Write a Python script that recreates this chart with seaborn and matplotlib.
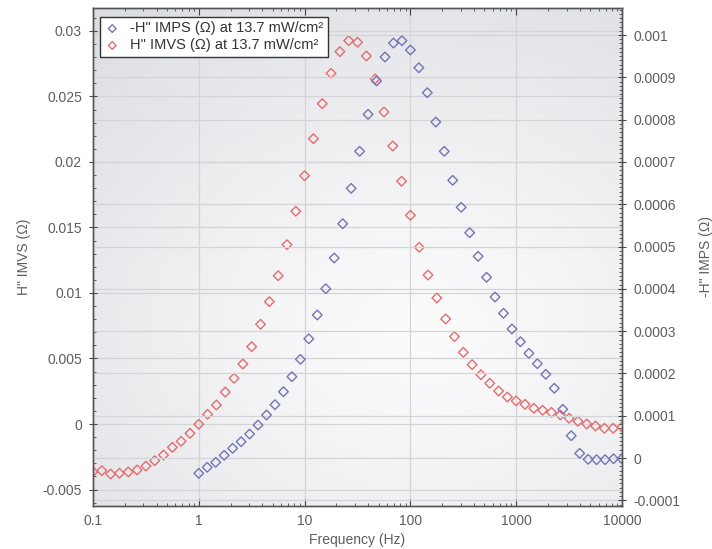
import numpy as np
import pandas as pd
import matplotlib
matplotlib.use("Agg")
import matplotlib.pyplot as plt
import seaborn as sns
from matplotlib.colors import LinearSegmentedColormap
from matplotlib.ticker import MultipleLocator, FuncFormatter, LogLocator, NullFormatter

# ---------------------------------------------------------------------------
# DATA
# ---------------------------------------------------------------------------
# IMVS: 12 points per decade, 0.1 Hz .. 10 kHz
FREQ_IMVS = [
    0.1, 0.1212, 0.1468, 0.1778, 0.2154, 0.2610, 0.3162, 0.3831, 0.4642, 0.5623, 0.6813, 0.8254,
    1, 1.212, 1.468, 1.778, 2.154, 2.610, 3.162, 3.831, 4.642, 5.623, 6.813, 8.254,
    10, 12.12, 14.68, 17.78, 21.54, 26.10, 31.62, 38.31, 46.42, 56.23, 68.13, 82.54,
    100, 121.2, 146.8, 177.8, 215.4, 261.0, 316.2, 383.1, 464.2, 562.3, 681.3, 825.4,
    1000, 1212, 1468, 1778, 2154, 2610, 3162, 3831, 4642, 5623, 6813, 8254,
    10000,
]
H_IMVS = [
    -0.00364, -0.00356, -0.00382, -0.00376, -0.00366, -0.00351, -0.00321, -0.00280, -0.00237, -0.00178, -0.00132, -0.00071,
    -0.00002, 0.00074, 0.00145, 0.00244, 0.00349, 0.00458, 0.00590, 0.00761, 0.00934, 0.01132, 0.01369, 0.01624,
    0.01895, 0.02178, 0.02445, 0.02677, 0.02842, 0.02926, 0.02914, 0.02809, 0.02634, 0.02382, 0.02122, 0.01853,
    0.01593, 0.01349, 0.01137, 0.00962, 0.00802, 0.00667, 0.00547, 0.00453, 0.00376, 0.00311, 0.00252, 0.00206,
    0.00176, 0.00150, 0.00120, 0.00105, 0.00089, 0.00069, 0.00044, 0.00021, 0.00000, -0.00015, -0.00033, -0.00033,
    -0.00023,
]

# IMPS: 1 Hz .. 10 kHz
FREQ_IMPS = [
    1, 1.202, 1.445, 1.738, 2.089, 2.512, 3.020, 3.631, 4.365, 5.248, 6.310, 7.586, 9.120,
    10.96, 13.18, 15.85, 19.05, 22.91, 27.54, 33.11, 39.81, 47.86, 57.54, 69.18, 83.18,
    100, 120.2, 144.5, 173.8, 208.9, 251.2, 302.0, 363.1, 436.5, 524.8, 631.0, 758.6, 912.0,
    1096, 1318, 1585, 1905, 2291, 2754, 3311, 3981, 4786, 5754, 6918, 8318, 10000,
]
H_IMPS = [
    -0.0000362, -0.0000220, -0.0000102, 0.0000064, 0.0000229, 0.0000385, 0.0000567, 0.0000780, 0.0001017,
    0.0001260, 0.0001567, 0.0001922, 0.0002333, 0.0002818, 0.0003381, 0.0004002, 0.0004728, 0.0005539,
    0.0006376, 0.0007251, 0.0008125, 0.0008913, 0.0009480, 0.0009810, 0.0009865, 0.0009645, 0.0009227,
    0.0008636, 0.0007943, 0.0007251, 0.0006565, 0.0005927, 0.0005326, 0.0004768, 0.0004272, 0.0003806,
    0.0003421, 0.0003050, 0.0002749, 0.0002475, 0.0002229, 0.0001979, 0.0001648, 0.0001151, 0.0000527,
    0.0000111, -0.0000031, -0.0000040, -0.0000040, -0.0000017, -0.0000017,
]

LABEL_IMPS = '-H" IMPS (\u03a9) at 13.7 mW/cm\u00b2'
LABEL_IMVS = 'H" IMVS (\u03a9) at 13.7 mW/cm\u00b2'

RED = "#e46c6c"
BLUE = "#7474b6"
TEXT = "#5e5e5e"


def fmt_num(decimals):
    def _f(v, pos):
        if abs(v) < 1e-12:
            return "0"
        return f"{v:.{decimals}f}".rstrip("0").rstrip(".")
    return FuncFormatter(_f)


sns.set_theme(style="white")
plt.rcParams["font.family"] = ["Liberation Sans", "DejaVu Sans"]

df_imvs = pd.DataFrame({"freq": FREQ_IMVS, "h": H_IMVS})
df_imps = pd.DataFrame({"freq": FREQ_IMPS, "h": H_IMPS})

fig = plt.figure(figsize=(7.12, 5.49), dpi=100)
pos = [0.1306, 0.0783, 0.8736 - 0.1306, 0.9863 - 0.0783]

# soft grey gradient behind the plot area (light centre, greyer edges)
bg = fig.add_axes(pos, zorder=0)
gy, gx = np.mgrid[0:1:200j, 0:1:200j]
r = np.hypot((gx - 0.62) / 1.0, (gy - 0.35) / 0.85)
shade = np.clip(r ** 1.3 / 0.95, 0, 1)
bg_cmap = LinearSegmentedColormap.from_list("bg", ["#fbfbfc", "#dcdde2"])
bg.imshow(shade, cmap=bg_cmap, vmin=0, vmax=1, extent=(0, 1, 0, 1),
          origin="lower", aspect="auto", interpolation="bilinear")
bg.axis("off")

ax = fig.add_axes(pos, zorder=1)
ax.patch.set_alpha(0)
ax2 = ax.twinx()
ax2.set_zorder(2)
ax2.patch.set_alpha(0)

sns.scatterplot(data=df_imvs, x="freq", y="h", ax=ax, marker="D", s=24,
                facecolor="none", edgecolor=RED, linewidth=1.0, label=LABEL_IMVS, legend=False)
sns.scatterplot(data=df_imps, x="freq", y="h", ax=ax2, marker="D", s=24,
                facecolor="none", edgecolor=BLUE, linewidth=1.0, label=LABEL_IMPS, legend=False)

ax.set_xscale("log")
ax.set_xlim(0.1, 10000)
ax.set_ylim(-0.00626, 0.03179)
ax2.set_ylim(-0.0001135, 0.001065)

ax.xaxis.set_major_locator(LogLocator(base=10))
ax.xaxis.set_minor_locator(LogLocator(base=10, subs=np.arange(2, 10)))
ax.xaxis.set_minor_formatter(NullFormatter())
ax.xaxis.set_major_formatter(FuncFormatter(lambda v, p: f"{v:g}"))
ax.yaxis.set_major_locator(MultipleLocator(0.005))
ax.yaxis.set_minor_locator(MultipleLocator(0.001))
ax.yaxis.set_major_formatter(fmt_num(3))
ax2.yaxis.set_major_locator(MultipleLocator(0.0001))
ax2.yaxis.set_minor_locator(MultipleLocator(0.00001))
ax2.yaxis.set_major_formatter(fmt_num(4))

grid_kw = dict(color="#d3d4d8", linewidth=0.9)
ax.grid(True, which="major", axis="both", **grid_kw)
ax2.grid(True, which="major", axis="y", **grid_kw)
ax.set_axisbelow(True)
ax2.set_axisbelow(True)

ax.tick_params(axis="x", which="both", direction="in", top=True, bottom=True,
               colors="#444444", labelcolor=TEXT, labelsize=10, pad=6)
ax.tick_params(axis="x", which="major", length=5, width=0.8)
ax.tick_params(axis="x", which="minor", length=2.5, width=0.6)
ax.tick_params(axis="y", which="major", direction="inout", length=6, width=0.8,
               left=True, right=False, colors="#444444", labelcolor=TEXT, labelsize=10, pad=5)
ax.tick_params(axis="y", which="minor", direction="in", length=2.5, width=0.6, left=True, colors="#444444")
ax2.tick_params(axis="y", which="major", direction="inout", length=6, width=0.8,
                right=True, colors="#444444", labelcolor=TEXT, labelsize=10, pad=5)
ax2.tick_params(axis="y", which="minor", direction="in", length=2.5, width=0.6, right=True, colors="#444444")

for a in (ax, ax2):
    for sp in a.spines.values():
        sp.set_color("#555555")
        sp.set_linewidth(1.0)

ax.set_xlabel("Frequency (Hz)", color=TEXT, fontsize=10, labelpad=3)
ax.set_ylabel('H" IMVS (\u03a9)', color=TEXT, fontsize=10)
ax.yaxis.set_label_coords(-0.117, 0.5)
ax2.set_ylabel('-H" IMPS (\u03a9)', color=TEXT, fontsize=10, rotation=90)
ax2.yaxis.set_label_coords(1.146, 0.5)

h1, l1 = ax.get_legend_handles_labels()
h2, l2 = ax2.get_legend_handles_labels()
leg = ax2.legend(h2 + h1, l2 + l1, loc="upper left", bbox_to_anchor=(0.013, 0.981),
                 borderaxespad=0, fontsize=10.5, frameon=True, fancybox=False,
                 framealpha=1, edgecolor="#333333", facecolor="white", markerscale=0.8,
                 handletextpad=0.7, borderpad=0.3, labelspacing=0.2, handlelength=1.1)
leg.get_frame().set_linewidth(1.0)
for t in leg.get_texts():
    t.set_color("#333333")

fig.savefig("out.png", dpi=100)
